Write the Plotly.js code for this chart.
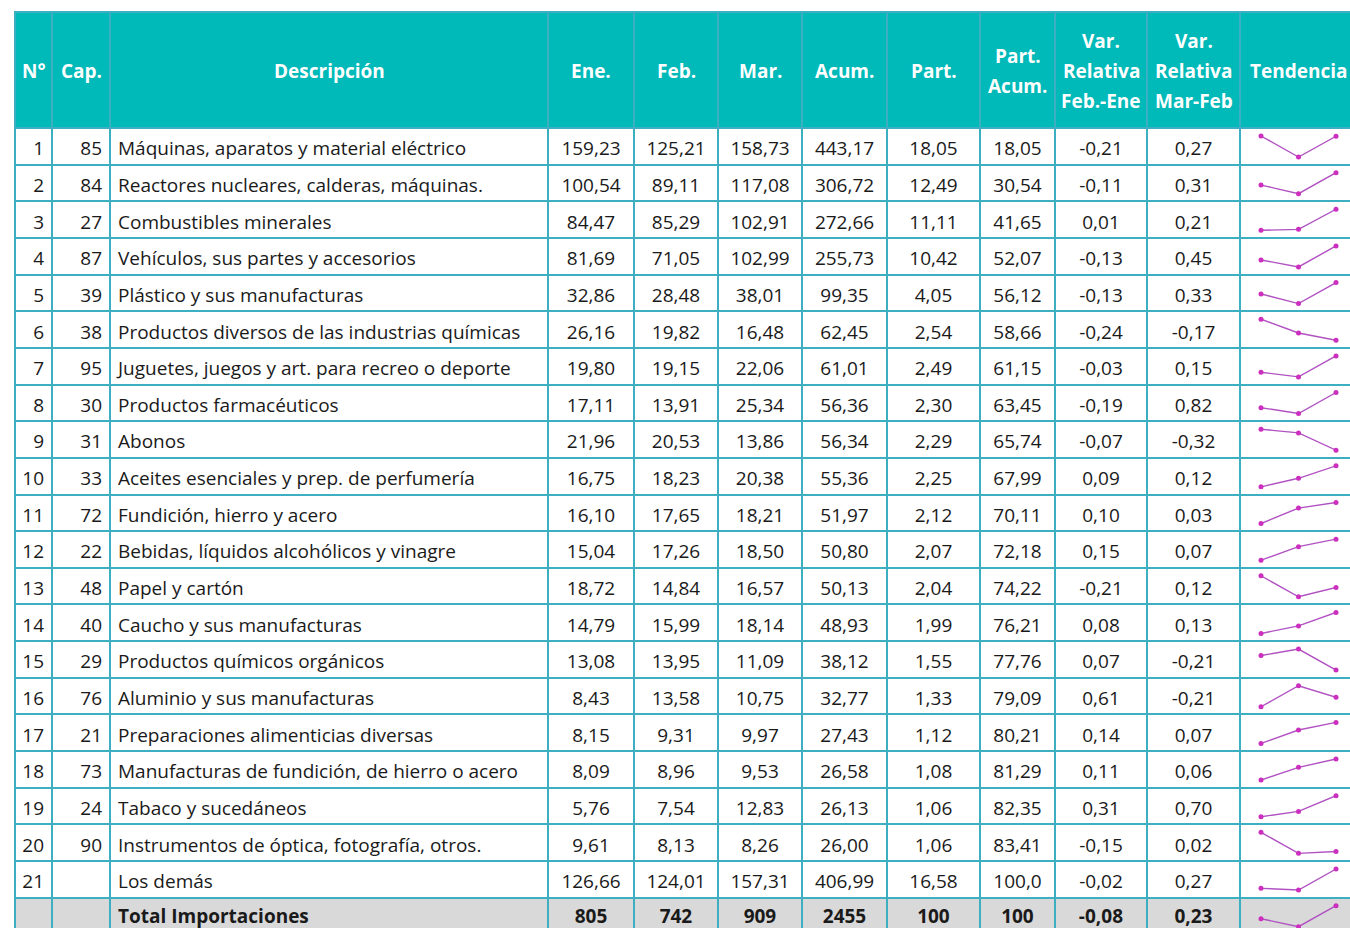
<!DOCTYPE html>
<html><head><meta charset="utf-8">
<script src="https://cdn.plot.ly/plotly-3.0.1.min.js"></script>
<style>html,body{margin:0;padding:0;overflow:hidden;background:#fff}#chart{width:1362px;height:950px}</style>
</head><body><div id="chart"></div>
<script>
const rowNumbers = ['1','2','3','4','5','6','7','8','9','10','11','12','13','14','15','16','17','18','19','20','21',''];
const chapters = ['85','84','27','87','39','38','95','30','31','33','72','22','48','40','29','76','21','73','24','90','',''];
const descriptions = [
  'Máquinas, aparatos y material eléctrico',
  'Reactores nucleares, calderas, máquinas.',
  'Combustibles minerales',
  'Vehículos, sus partes y accesorios',
  'Plástico y sus manufacturas',
  'Productos diversos de las industrias químicas',
  'Juguetes, juegos y art. para recreo o deporte',
  'Productos farmacéuticos',
  'Abonos',
  'Aceites esenciales y prep. de perfumería',
  'Fundición, hierro y acero',
  'Bebidas, líquidos alcohólicos y vinagre',
  'Papel y cartón',
  'Caucho y sus manufacturas',
  'Productos químicos orgánicos',
  'Aluminio y sus manufacturas',
  'Preparaciones alimenticias diversas',
  'Manufacturas de fundición, de hierro o acero',
  'Tabaco y sucedáneos',
  'Instrumentos de óptica, fotografía, otros.',
  'Los demás',
  'Total Importaciones'
];
const ene = [159.23,100.54,84.47,81.69,32.86,26.16,19.80,17.11,21.96,16.75,16.10,15.04,18.72,14.79,13.08,8.43,8.15,8.09,5.76,9.61,126.66,805];
const feb = [125.21,89.11,85.29,71.05,28.48,19.82,19.15,13.91,20.53,18.23,17.65,17.26,14.84,15.99,13.95,13.58,9.31,8.96,7.54,8.13,124.01,742];
const mar = [158.73,117.08,102.91,102.99,38.01,16.48,22.06,25.34,13.86,20.38,18.21,18.50,16.57,18.14,11.09,10.75,9.97,9.53,12.83,8.26,157.31,909];
const acum = [443.17,306.72,272.66,255.73,99.35,62.45,61.01,56.36,56.34,55.36,51.97,50.80,50.13,48.93,38.12,32.77,27.43,26.58,26.13,26.00,406.99,2455];
const part = [18.05,12.49,11.11,10.42,4.05,2.54,2.49,2.30,2.29,2.25,2.12,2.07,2.04,1.99,1.55,1.33,1.12,1.08,1.06,1.06,16.58,100];
const partAcum = [18.05,30.54,41.65,52.07,56.12,58.66,61.15,63.45,65.74,67.99,70.11,72.18,74.22,76.21,77.76,79.09,80.21,81.29,82.35,83.41,100.0,100];
const varFebEne = [-0.21,-0.11,0.01,-0.13,-0.13,-0.24,-0.03,-0.19,-0.07,0.09,0.10,0.15,-0.21,0.08,0.07,0.61,0.14,0.11,0.31,-0.15,-0.02,-0.08];
const varMarFeb = [0.27,0.31,0.21,0.45,0.33,-0.17,0.15,0.82,-0.32,0.12,0.03,0.07,0.12,0.13,-0.21,-0.21,0.07,0.06,0.70,0.02,0.27,0.23];
const months = ['Ene.','Feb.','Mar.'];
const headers = [['N°'],['Cap.'],['Descripción'],['Ene.'],['Feb.'],['Mar.'],['Acum.'],['Part.'],['Part.','Acum.'],['Var.','Relativa','Feb.-Ene'],['Var.','Relativa','Mar-Feb'],['Tendencia']];

const W = 1362, H = 950;
const FONT = 'Open Sans, Noto Sans, sans-serif';
const nRows = descriptions.length;
const totalIdx = nRows - 1;
const tableTop = 12, headerH = 116, rowH = 36.65;
const colEdges = [15,52,110,548,634,718,802,887,980,1055,1147,1240,1358];
const colWidths = colEdges.slice(1).map((e,i)=>e-colEdges[i]);
const xDomain = [colEdges[0]/W, colEdges[colEdges.length-1]/W];

function fmt(v, d){ return v.toFixed(d).replace('.', ','); }
function bold(s, i){ return i === totalIdx ? '<b>' + s + '</b>' : s; }
function numCol(arr, dec){
  return arr.map((v,i)=>bold(fmt(v, typeof dec === 'function' ? dec(v,i) : dec), i));
}
const intOnTotal = (v,i)=> i === totalIdx ? 0 : 2;

const columns = [
  rowNumbers,
  chapters,
  descriptions.map(bold),
  numCol(ene, intOnTotal),
  numCol(feb, intOnTotal),
  numCol(mar, intOnTotal),
  numCol(acum, intOnTotal),
  numCol(part, intOnTotal),
  numCol(partAcum, (v,i)=> i === totalIdx ? 0 : (v >= 100 ? 1 : 2)),
  numCol(varFebEne, 2),
  numCol(varMarFeb, 2),
  descriptions.map(()=> '')
];
const aligns = ['right','right','left','center','center','center','center','center','center','center','center','center'];

const gray = '#d9d9d9';
const clear = 'rgba(0,0,0,0)';
const fillColors = columns.map((c,ci)=> c.map((_,ri)=> ci === 11 ? clear : (ri === totalIdx ? gray : '#ffffff')));
const lineColor = '#3cb0c2';

// grid + fills table
const traces = [{
  type: 'table',
  domain: {x: xDomain, y: [0, 1 - tableTop/H]},
  columnwidth: colWidths,
  header: {
    values: headers.map(()=> ''),
    height: headerH,
    fill: {color: '#00b9b9'},
    line: {color: lineColor, width: 2}
  },
  cells: {
    values: columns.map(c => c.map(()=> '')),
    height: rowH,
    fill: {color: fillColors},
    line: {color: lineColor, width: 2}
  }
}];

// text tables (same grid, text vertically nudged to sit mid-row)
function textTable(keepRow, shift){
  return {
    type: 'table',
    domain: {x: xDomain, y: [0, 1 - (tableTop + shift)/H]},
    columnwidth: colWidths,
    header: {values: headers.map(()=> ''), height: headerH, fill: {color: clear}, line: {color: clear, width: 0}},
    cells: {
      values: columns.map(c => c.map((v,ri)=> keepRow(ri) ? v : '')),
      align: aligns,
      height: rowH,
      fill: {color: clear},
      line: {color: clear, width: 0},
      font: {family: FONT, size: 19, color: '#1a1a1a'}
    }
  };
}
traces.push(textTable(ri => ri !== totalIdx, 5));
traces.push(textTable(ri => ri === totalIdx, -3));

// header labels, one annotation per text line
const annotations = [];
const lineGap = 30, headerMid = tableTop + headerH/2 + 1;
headers.forEach((lines, ci) => {
  const cx = (colEdges[ci] + colEdges[ci+1]) / 2;
  lines.forEach((txt, li) => {
    const cy = headerMid + (li - (lines.length - 1)/2) * lineGap;
    annotations.push({
      xref: 'paper', yref: 'paper', x: cx/W, y: 1 - cy/H,
      xanchor: 'center', yanchor: 'middle', showarrow: false,
      text: '<b>' + txt + '</b>',
      font: {family: FONT, size: 19, color: '#ffffff'}
    });
  });
});

const layout = {
  width: W, height: H,
  margin: {l:0, r:0, t:0, b:0},
  paper_bgcolor: '#ffffff',
  plot_bgcolor: 'rgba(0,0,0,0)',
  showlegend: false,
  annotations: annotations,
  xaxis: {type: 'category', range: [0, 2], domain: [1261/W, 1336/W], visible: false, fixedrange: true},
  shapes: [{
    type: 'rect', xref: 'paper', yref: 'paper', layer: 'below',
    x0: colEdges[11]/W, x1: colEdges[12]/W,
    y0: 1 - (tableTop + headerH + rowH*(totalIdx+1))/H, y1: 1 - (tableTop + headerH + rowH*totalIdx)/H,
    fillcolor: gray, line: {width: 0}
  }]
};

const pad = 0.12;
for (let i = 0; i < nRows; i++) {
  const ys = [ene[i], feb[i], mar[i]];
  const lo = Math.min(...ys), hi = Math.max(...ys), span = hi - lo || 1;
  const rowTop = tableTop + headerH + rowH*i;
  const pxTop = rowTop + 8 - pad*21, pxBot = rowTop + 29 + pad*21;
  const axName = i === 0 ? 'yaxis' : 'yaxis' + (i+1);
  layout[axName] = {
    domain: [1 - pxBot/H, 1 - pxTop/H],
    range: [lo - pad*span, hi + pad*span],
    visible: false, fixedrange: true, anchor: 'x'
  };
  traces.push({
    type: 'scatter', mode: 'lines+markers',
    x: months, y: ys,
    xaxis: 'x', yaxis: i === 0 ? 'y' : 'y' + (i+1),
    line: {color: '#b152c2', width: 1.4},
    marker: {color: '#cc2fbe', size: 5},
    cliponaxis: false, hoverinfo: 'skip'
  });
}

Plotly.newPlot('chart', traces, layout, {displayModeBar: false, staticPlot: true});
</script></body></html>
